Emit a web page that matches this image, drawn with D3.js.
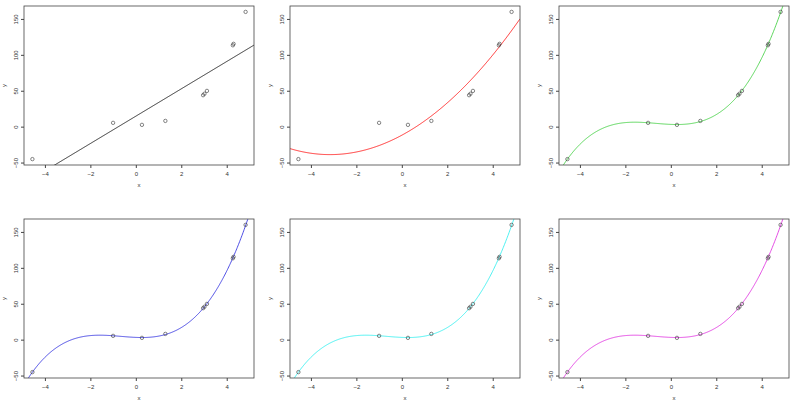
<!DOCTYPE html>
<html><head><meta charset="utf-8">
<script src="https://cdn.jsdelivr.net/npm/d3@7"></script>
<style>body{margin:0;background:#fff}text{font-family:"Liberation Sans",Arial,sans-serif}</style>
</head><body><svg id="c" width="800" height="406"></svg>
<script>
const xs = [-4.55, -1.0, 0.27, 1.30, 2.96, 3.02, 3.13, 4.27, 4.30, 4.83];
const ys = [-44.5, 6.0, 3.2, 8.7, 44.5, 46.5, 50.5, 114.0, 116.0, 160.5];
const degrees = [1, 2, 3, 3, 3, 3];
const colors = ["#000000", "#ff0000", "#33cc33", "#2222dd", "#22eeee", "#dd22dd"];
const xTicks = [-4, -2, 0, 2, 4];
const yTicks = [-50, 0, 50, 100, 150];

function polyfit(x, y, d) {
  const n = d + 1, A = [];
  for (let i = 0; i < n; i++) { A.push(new Array(n + 1).fill(0)); }
  for (let k = 0; k < x.length; k++) {
    for (let i = 0; i < n; i++) {
      for (let j = 0; j < n; j++) A[i][j] += Math.pow(x[k], i + j);
      A[i][n] += y[k] * Math.pow(x[k], i);
    }
  }
  for (let i = 0; i < n; i++) {
    let p = i; for (let r = i + 1; r < n; r++) if (Math.abs(A[r][i]) > Math.abs(A[p][i])) p = r;
    [A[i], A[p]] = [A[p], A[i]];
    for (let r = 0; r < n; r++) if (r !== i) {
      const f = A[r][i] / A[i][i];
      for (let c = i; c <= n; c++) A[r][c] -= f * A[i][c];
    }
  }
  return A.map((row, i) => row[n] / row[i]);
}

const svg = d3.select("#c");
const lefts = [24, 290, 559], tops = [6, 219], W = 230, H = 159;
const xr = [-4.92, 5.2], yr = [-52.7, 168.7];

degrees.forEach((deg, idx) => {
  const L = lefts[idx % 3], T = tops[Math.floor(idx / 3)];
  const x = d3.scaleLinear().domain(xr).range([L, L + W]);
  const y = d3.scaleLinear().domain(yr).range([T + H, T]);
  const g = svg.append("g");
  const cid = "clip" + idx;
  g.append("clipPath").attr("id", cid).append("rect").attr("x", L).attr("y", T).attr("width", W).attr("height", H);
  const coef = polyfit(xs, ys, deg);
  const grid = d3.range(0, 401).map(i => xr[0] + (xr[1] - xr[0]) * i / 400);
  const pts = grid.map(v => [v, coef.reduce((s, c, i) => s + c * Math.pow(v, i), 0)]);
  g.append("path").attr("clip-path", `url(#${cid})`).attr("fill", "none").attr("stroke", colors[idx]).attr("stroke-width", 0.8)
    .attr("d", d3.line().x(d => x(d[0])).y(d => y(d[1]))(pts));
  g.selectAll("circle").data(xs).join("circle").attr("cx", d => x(d)).attr("cy", (d, i) => y(ys[i]))
    .attr("r", 1.7).attr("fill", "none").attr("stroke", "#333").attr("stroke-width", 0.6);
  g.append("rect").attr("x", L).attr("y", T).attr("width", W).attr("height", H).attr("fill", "none").attr("stroke", "#444").attr("stroke-width", 0.8);
  const xa = g.append("g").attr("transform", `translate(0,${T + H})`).call(d3.axisBottom(x).tickValues(xTicks).tickSize(3).tickFormat(d3.format("d")));
  const ya = g.append("g").attr("transform", `translate(${L},0)`).call(d3.axisLeft(y).tickValues(yTicks).tickSize(3).tickFormat(d3.format("d")));
  [xa, ya].forEach(a => { a.select(".domain").remove(); a.selectAll("line").attr("stroke", "#444"); a.selectAll("text").attr("font-size", 6).attr("fill", "#333"); });
  xa.selectAll("text").attr("dy", "0.9em");
  ya.selectAll(".tick").attr("transform", null);
  ya.selectAll(".tick line").attr("y1", d => y(d)).attr("y2", d => y(d));
  ya.selectAll("text").attr("text-anchor", "middle").attr("transform", d => `translate(-8,${y(d)}) rotate(-90)`).attr("x", 0).attr("y", 0).attr("dy", "0.35em");
  g.append("text").attr("x", L + W / 2).attr("y", T + H + 22).attr("text-anchor", "middle").attr("font-size", 6).attr("fill", "#333").text("x");
  g.append("text").attr("transform", `translate(${L - 18},${T + H / 2}) rotate(-90)`).attr("text-anchor", "middle").attr("font-size", 6).attr("fill", "#333").text("y");
});
</script></body></html>
